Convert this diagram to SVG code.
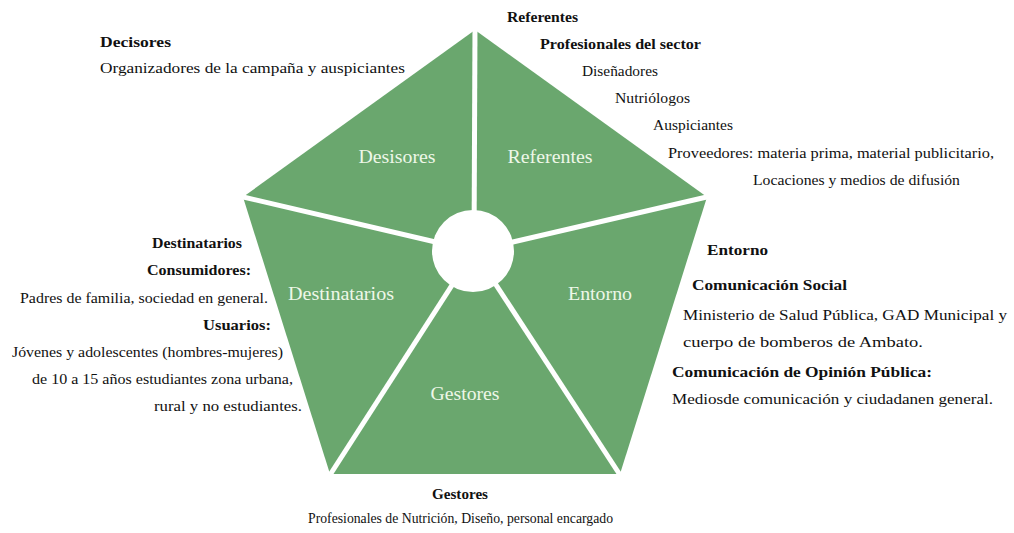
<svg xmlns="http://www.w3.org/2000/svg" width="1014" height="533" viewBox="0 0 1014 533">
  <style>
    text { font-family: "Liberation Serif", Tinos, "Times New Roman", "Noto Serif", "DejaVu Serif", serif; }
    .seg { fill: #6aa76e; }
    .lbl { font-size: 19.5px; fill: #eef7e8; text-anchor: middle; }
    .t { font-size: 15px; fill: #111; }
    .b { font-weight: bold; }
    .div { stroke: #fff; stroke-width: 5; stroke-linecap: butt; }
  </style>
  <rect width="1014" height="533" fill="#fff"/>

  <!-- pentagon segments, each wedge runs from the hub to two outer corners -->
  <g id="desisores">
    <polygon class="seg" points="474,251 243,197 475,30"/>
    <text class="lbl" x="397" y="163" textLength="77" lengthAdjust="spacingAndGlyphs">Desisores</text>
  </g>
  <g id="referentes">
    <polygon class="seg" points="474,251 475,30 707,197"/>
    <text class="lbl" x="550" y="163" textLength="85" lengthAdjust="spacingAndGlyphs">Referentes</text>
  </g>
  <g id="entorno">
    <polygon class="seg" points="474,251 707,197 620,474"/>
    <text class="lbl" x="600" y="300" textLength="64" lengthAdjust="spacingAndGlyphs">Entorno</text>
  </g>
  <g id="gestores">
    <polygon class="seg" points="474,251 620,474 330,474"/>
    <text class="lbl" x="465" y="400" textLength="69" lengthAdjust="spacingAndGlyphs">Gestores</text>
  </g>
  <g id="destinatarios">
    <polygon class="seg" points="474,251 330,474 243,197"/>
    <text class="lbl" x="341" y="300" textLength="106" lengthAdjust="spacingAndGlyphs">Destinatarios</text>
  </g>

  <!-- white dividers between wedges and the central hub -->
  <g id="connectors">
    <line class="div" x1="474" y1="251" x2="475" y2="26"/>
    <line class="div" x1="474" y1="251" x2="711" y2="196"/>
    <line class="div" x1="474" y1="251" x2="622" y2="478"/>
    <line class="div" x1="474" y1="251" x2="328" y2="478"/>
    <line class="div" x1="474" y1="251" x2="239" y2="196"/>
    <circle cx="473" cy="251" r="41" fill="#fff"/>
  </g>

  <!-- descriptions -->
  <g id="txt-decisores">
    <text class="t b" x="100" y="47" textLength="71" lengthAdjust="spacingAndGlyphs">Decisores</text>
    <text class="t" x="100" y="73" textLength="305" lengthAdjust="spacingAndGlyphs">Organizadores de la campaña y auspiciantes</text>
  </g>
  <g id="txt-referentes">
    <text class="t b" x="507" y="22" textLength="71" lengthAdjust="spacingAndGlyphs">Referentes</text>
    <text class="t b" x="540" y="49" textLength="161" lengthAdjust="spacingAndGlyphs">Profesionales del sector</text>
    <text class="t" x="582" y="76" textLength="76" lengthAdjust="spacingAndGlyphs">Diseñadores</text>
    <text class="t" x="615" y="103" textLength="75" lengthAdjust="spacingAndGlyphs">Nutriólogos</text>
    <text class="t" x="653" y="130" textLength="80" lengthAdjust="spacingAndGlyphs">Auspiciantes</text>
    <text class="t" x="668" y="158" textLength="326" lengthAdjust="spacingAndGlyphs">Proveedores: materia prima, material publicitario,</text>
    <text class="t" x="753" y="185" textLength="207" lengthAdjust="spacingAndGlyphs">Locaciones y medios de difusión</text>
  </g>
  <g id="txt-destinatarios">
    <text class="t b" x="152" y="248" textLength="90" lengthAdjust="spacingAndGlyphs">Destinatarios</text>
    <text class="t b" x="147" y="275" textLength="104" lengthAdjust="spacingAndGlyphs">Consumidores:</text>
    <text class="t" x="20" y="303" textLength="248" lengthAdjust="spacingAndGlyphs">Padres de familia, sociedad en general.</text>
    <text class="t b" x="203" y="330" textLength="68" lengthAdjust="spacingAndGlyphs">Usuarios:</text>
    <text class="t" x="12" y="357" textLength="271" lengthAdjust="spacingAndGlyphs">Jóvenes y adolescentes (hombres-mujeres)</text>
    <text class="t" x="32" y="384" textLength="261" lengthAdjust="spacingAndGlyphs">de 10 a 15 años estudiantes zona urbana,</text>
    <text class="t" x="154" y="411" textLength="148" lengthAdjust="spacingAndGlyphs">rural y no estudiantes.</text>
  </g>
  <g id="txt-entorno">
    <text class="t b" x="707" y="255" textLength="61" lengthAdjust="spacingAndGlyphs">Entorno</text>
    <text class="t b" x="692" y="290" textLength="155" lengthAdjust="spacingAndGlyphs">Comunicación Social</text>
    <text class="t" x="683" y="320" textLength="324" lengthAdjust="spacingAndGlyphs">Ministerio de Salud Pública, GAD Municipal y</text>
    <text class="t" x="683" y="347" textLength="240" lengthAdjust="spacingAndGlyphs">cuerpo de bomberos de Ambato.</text>
    <text class="t b" x="672" y="377" textLength="260" lengthAdjust="spacingAndGlyphs">Comunicación de Opinión Pública:</text>
    <text class="t" x="672" y="404" textLength="321" lengthAdjust="spacingAndGlyphs">Mediosde comunicación y ciudadanen general.</text>
  </g>
  <g id="txt-gestores">
    <text class="t b" x="432" y="499" textLength="56" lengthAdjust="spacingAndGlyphs">Gestores</text>
    <text class="t" x="308" y="523" textLength="305" lengthAdjust="spacingAndGlyphs">Profesionales de Nutrición, Diseño, personal encargado</text>
  </g>
</svg>
